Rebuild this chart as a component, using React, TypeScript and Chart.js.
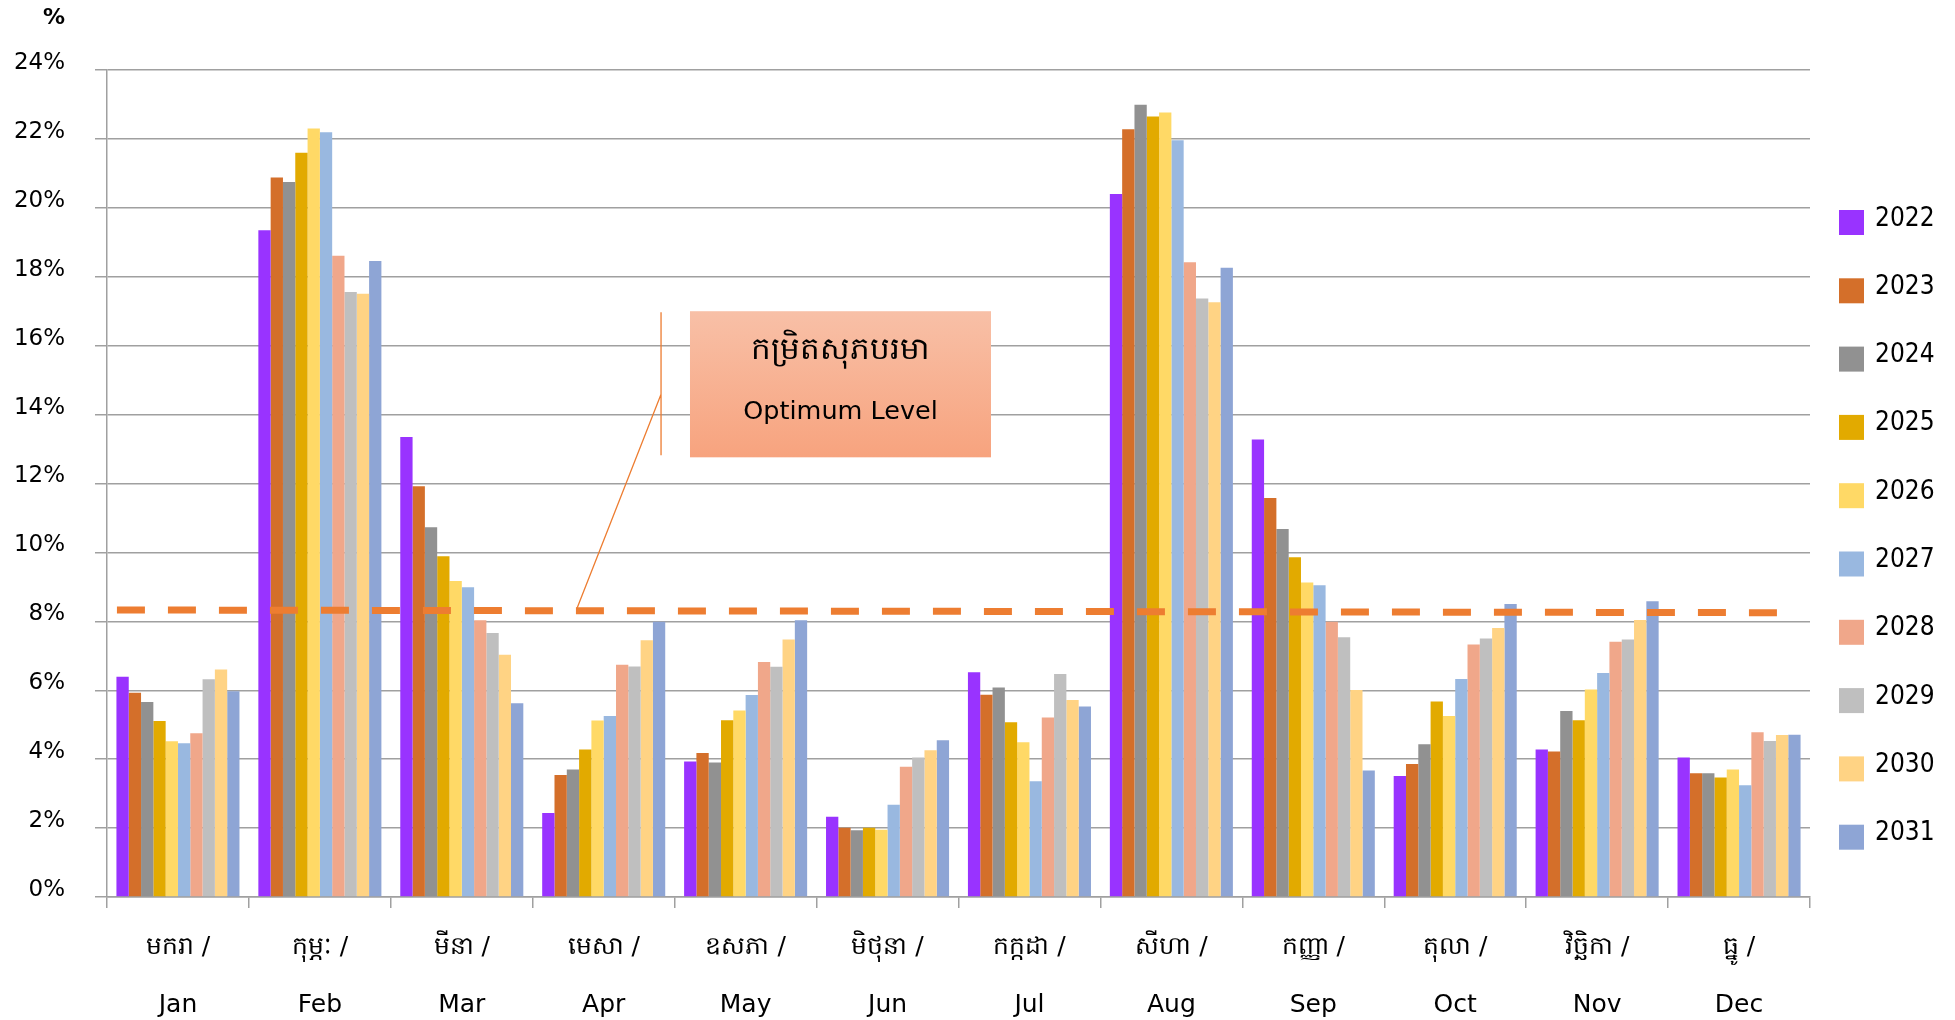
import React, { useEffect, useRef } from 'react';
import { Chart, registerables } from 'chart.js';

Chart.register(...registerables);

const khmerMonths = ['មករា', 'កុម្ភៈ', 'មីនា', 'មេសា', 'ឧសភា', 'មិថុនា', 'កក្កដា', 'សីហា', 'កញ្ញា', 'តុលា', 'វិច្ឆិកា', 'ធ្នូ'];
const englishMonths = ['Jan', 'Feb', 'Mar', 'Apr', 'May', 'Jun', 'Jul', 'Aug', 'Sep', 'Oct', 'Nov', 'Dec'];
const years = ['2022', '2023', '2024', '2025', '2026', '2027', '2028', '2029', '2030', '2031'];

const v2022 = [6.39, 19.35, 13.35, 2.44, 3.93, 2.33, 6.52, 20.40, 13.28, 3.51, 4.28, 4.05];
const v2023 = [5.93, 20.88, 11.92, 3.54, 4.18, 2.01, 5.87, 22.28, 11.58, 3.86, 4.22, 3.59];
const v2024 = [5.66, 20.75, 10.73, 3.70, 3.90, 1.94, 6.08, 22.99, 10.68, 4.43, 5.40, 3.59];
const v2025 = [5.11, 21.60, 9.89, 4.28, 5.13, 2.01, 5.07, 22.65, 9.86, 5.67, 5.13, 3.47];
const v2026 = [4.52, 22.30, 9.17, 5.12, 5.41, 1.95, 4.49, 22.77, 9.13, 5.25, 6.02, 3.70];
const v2027 = [4.46, 22.19, 8.99, 5.25, 5.86, 2.68, 3.36, 21.96, 9.05, 6.33, 6.50, 3.24];
const v2028 = [4.75, 18.61, 8.03, 6.74, 6.82, 3.78, 5.21, 18.42, 7.99, 7.33, 7.41, 4.78];
const v2029 = [6.32, 17.56, 7.66, 6.69, 6.68, 4.05, 6.47, 17.37, 7.54, 7.50, 7.47, 4.53];
const v2030 = [6.60, 17.51, 7.03, 7.45, 7.47, 4.26, 5.72, 17.26, 6.01, 7.81, 8.04, 4.70];
const v2031 = [5.97, 18.46, 5.62, 7.99, 8.03, 4.55, 5.53, 18.26, 3.67, 8.50, 8.58, 4.71];

// optimum level line: value at its start and at its end
const optimumStart = 8.33;
const optimumEnd = 8.25;

const yMin = 0;
const yMax = 24;
const yStep = 2;

const calloutKhmer = 'កម្រិតសុភបរមា';
const calloutEnglish = 'Optimum Level';
const unitLabel = '%';

const seriesValues = [v2022, v2023, v2024, v2025, v2026, v2027, v2028, v2029, v2030, v2031];
const seriesColors = ['#9933ff', '#d46f2a', '#919191', '#e2aa00', '#ffd966', '#99b8e0', '#f0a78a', '#bfbfbf', '#ffd384', '#8ea5d5'];

const FONT = '"DejaVu Sans", Verdana, sans-serif';
const FONT_C = '"DejaVu Sans Condensed", "DejaVu Sans", sans-serif';
const GRID = '#a0a0a0';

const overlayPlugin = {
  id: 'overlay',
  afterDraw(chart: any) {
    const ctx = chart.ctx;
    const xs = chart.scales.x;
    const ys = chart.scales.y;
    const px = (v: number) => xs.getPixelForValue(v);
    const py = (v: number) => ys.getPixelForValue(v);
    ctx.save();

    // unit label
    ctx.fillStyle = '#000';
    ctx.font = 'bold 22px ' + FONT;
    ctx.textAlign = 'center';
    ctx.textBaseline = 'middle';
    ctx.fillText(unitLabel, 54, 18);

    // callout leader lines
    ctx.strokeStyle = '#ed7d31';
    ctx.lineWidth = 1.3;
    ctx.beginPath();
    ctx.moveTo(px(3.404), py(16.97));
    ctx.lineTo(px(3.404), py(12.82));
    ctx.moveTo(px(3.404), py(14.59));
    ctx.lineTo(px(2.812), py(8.38));
    ctx.stroke();

    // callout box
    const bx0 = px(3.608), bx1 = px(5.729), by0 = py(17.0), by1 = py(12.76);
    const grad = ctx.createLinearGradient(0, by0, 0, by1);
    grad.addColorStop(0, '#f8c0a7');
    grad.addColorStop(1, '#f7a37e');
    ctx.fillStyle = grad;
    ctx.fillRect(bx0, by0, bx1 - bx0, by1 - by0);
    ctx.fillStyle = '#000';
    ctx.textAlign = 'center';
    ctx.textBaseline = 'middle';
    const cx = (bx0 + bx1) / 2;
    ctx.font = '31px ' + FONT;
    ctx.fillText(calloutKhmer, cx, by0 + 40);
    ctx.font = '25.5px ' + FONT;
    ctx.fillText(calloutEnglish, cx, by0 + 101);

    // legend
    const lx = chart.chartArea.right + 29;
    const ly0 = 222.5;
    const step = 68.3;
    ctx.font = '26px ' + FONT_C;
    ctx.textAlign = 'left';
    ctx.textBaseline = 'alphabetic';
    chart.data.datasets.forEach((ds: any, i: number) => {
      if (ds.type === 'line') return;
      const cy = ly0 + step * i;
      ctx.fillStyle = ds.backgroundColor;
      ctx.fillRect(lx, cy - 12.5, 25, 25);
      ctx.fillStyle = '#000';
      ctx.fillText(ds.label, lx + 36, cy + 3);
    });
    ctx.restore();
  },
};

export default function App() {
  const ref = useRef<HTMLCanvasElement>(null);
  useEffect(() => {
    if (!ref.current) return;
    const labels = khmerMonths.map((k, i) => [k + ' /', englishMonths[i]]);
    const barSets: any[] = years.map((y, i) => ({
      type: 'bar',
      label: y,
      data: seriesValues[i],
      backgroundColor: seriesColors[i],
      borderWidth: 0,
      categoryPercentage: 0.867,
      barPercentage: 1,
      xAxisID: 'x',
      yAxisID: 'y',
      order: 2,
    }));
    // the line runs across the category axis; x given in the category scale's own index units
    const lineSet: any = {
      type: 'line',
      label: 'optimum',
      parsing: false,
      normalized: true,
      data: [
        { x: -0.43, y: optimumStart },
        { x: 11.35, y: optimumEnd },
      ],
      xAxisID: 'x',
      yAxisID: 'y',
      borderColor: '#ed7d31',
      borderWidth: 7,
      borderDash: [28, 23],
      pointRadius: 0,
      fill: false,
      order: 0,
    };
    const chart = new Chart(ref.current, {
      type: 'bar',
      data: { labels, datasets: [...barSets, lineSet] },
      plugins: [overlayPlugin],
      options: {
        responsive: false,
        animation: false,
        layout: { padding: { top: 70, right: 145, left: 0, bottom: 0 } },
        plugins: {
          legend: { display: false },
          tooltip: { enabled: false },
          title: { display: false },
        },
        scales: {
          x: {
            type: 'category',
            offset: true,
            grid: {
              offset: true,
              drawOnChartArea: false,
              drawTicks: true,
              tickLength: 11,
              color: GRID,
              lineWidth: 1.5,
            },
            border: { display: true, color: GRID, width: 1.5 },
            ticks: {
              color: '#000',
              font: { family: FONT, size: 25, lineHeight: 2.32 },
              padding: 10,
              maxRotation: 0,
              autoSkip: false,
            },
            afterFit: (s: any) => { s.height = 123; },
          },
          y: {
            min: yMin,
            max: yMax,
            ticks: {
              stepSize: yStep,
              color: '#000',
              font: { family: FONT, size: 23 },
              padding: 30,
              labelOffset: -7,
              callback: (v: any) => v + '%',
            },
            grid: { color: GRID, lineWidth: 1.5, tickLength: 12 },
            border: { display: true, color: GRID, width: 1.5 },
            afterFit: (s: any) => { s.width = 107; },
          },
        },
      } as any,
    });
    return () => chart.destroy();
  }, []);
  return (
    <div style={{ position: 'fixed', left: 0, top: 0, width: 1955, height: 1020, background: '#fff' }}>
      <canvas ref={ref} width={1955} height={1020} style={{ width: 1955, height: 1020, display: 'block' }} />
    </div>
  );
}
